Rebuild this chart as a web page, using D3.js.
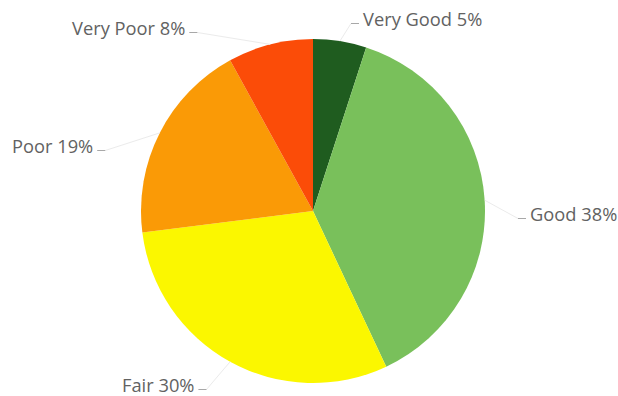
<!DOCTYPE html>
<html>
<head>
<meta charset="utf-8">
<script src="https://cdn.jsdelivr.net/npm/d3@7/dist/d3.min.js"></script>
<style>
  html, body { margin: 0; padding: 0; background: #ffffff; }
  svg { display: block; }
  .lbl { font-family: "Open Sans", sans-serif; font-size: 18.3px; fill: #626262; }
</style>
</head>
<body>
<svg id="chart" width="618" height="396"></svg>
<script>
// Condition ratings and their shares (%)
const categories = ["Very Good", "Good", "Fair", "Poor", "Very Poor"];
const shares = [5, 38, 30, 19, 8];
const colors = ["#1f5c1f", "#79c05b", "#fbf700", "#fa9a06", "#fb4c08"];

// Label anchor points (left edge of text, baseline)
const labelPos = [
  { x: 363, y: 26 },
  { x: 530, y: 221 },
  { x: 122, y: 392 },
  { x: 12,  y: 153 },
  { x: 72,  y: 35 }
];

const svg = d3.select("#chart");
const cx = 313, cy = 211, r = 172;

const data = categories.map((c, i) => ({ cat: c, value: shares[i], color: colors[i] }));

const pie = d3.pie().value(d => d.value).sort(null);
const arc = d3.arc().innerRadius(0).outerRadius(r);
const arcs = pie(data);

const g = svg.append("g").attr("transform", `translate(${cx},${cy})`);

g.selectAll("path.slice")
  .data(arcs)
  .join("path")
  .attr("class", "slice")
  .attr("d", arc)
  .attr("fill", d => d.data.color);

// Labels with faint leader lines back to the slice edge
const edge = d3.arc().innerRadius(r).outerRadius(r);
arcs.forEach((a, i) => {
  const p = labelPos[i];
  const t = svg.append("text")
    .attr("class", "lbl")
    .attr("x", p.x)
    .attr("y", p.y)
    .text(`${a.data.cat} ${a.data.value}%`);
  const bb = t.node().getBBox();
  const [ex, ey] = edge.centroid(a);
  const tx = ex + cx, ty = ey + cy;
  const midY = bb.y + bb.height * 0.7;
  const leftSide = bb.x + bb.width < cx;
  const startX = leftSide ? bb.x + bb.width + 4 : bb.x - 4;
  const dir = leftSide ? 1 : -1;
  const pts = [[startX, midY], [startX + dir * 8, midY], [tx, ty]];
  svg.append("polyline")
    .attr("points", pts.map(q => q.join(",")).join(" "))
    .attr("fill", "none")
    .attr("stroke", "#ebebeb")
    .attr("stroke-width", 1);
  svg.append("line")
    .attr("x1", pts[0][0]).attr("y1", midY)
    .attr("x2", pts[1][0]).attr("y2", midY)
    .attr("stroke", "#a8a8a8")
    .attr("stroke-width", 1);
});
</script>
</body>
</html>
